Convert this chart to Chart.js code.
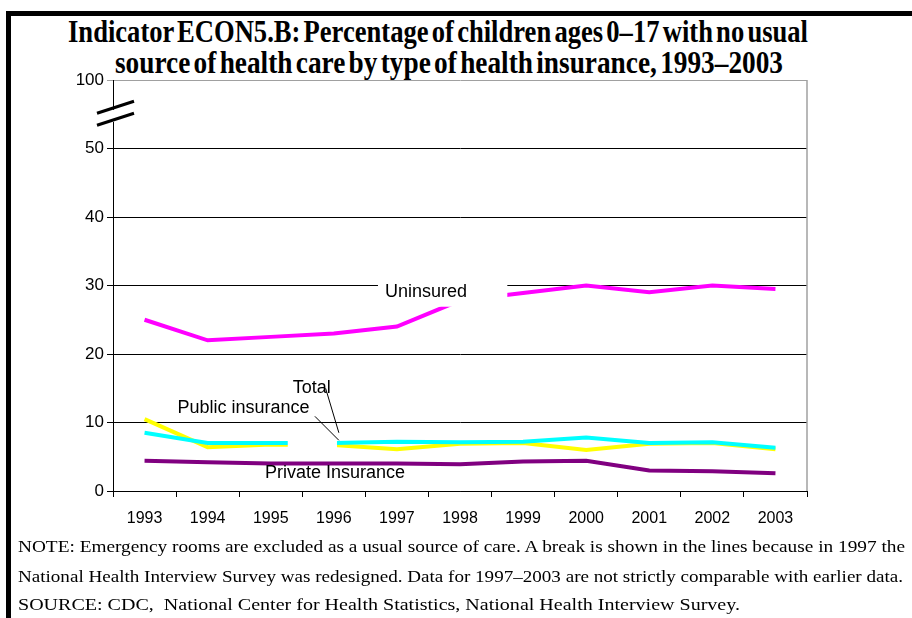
<!DOCTYPE html>
<html>
<head>
<meta charset="utf-8">
<script src="https://cdn.jsdelivr.net/npm/chart.js@4.4.1/dist/chart.umd.min.js"></script>
<style>
  html, body { margin: 0; padding: 0; background: #fff; }
  body { width: 912px; height: 618px; position: relative; overflow: hidden; }
  .bar { position: absolute; background: #000; }
  .line { position: absolute; white-space: nowrap; transform-origin: 0 0; color: #000; }
  .title { font: bold 31px "Liberation Serif", "Times New Roman", serif; word-spacing: -4px; }
  .note { font: 16px "Liberation Serif", "Times New Roman", serif; }
  #chart { position: absolute; left: 0; top: 0; }
</style>
</head>
<body>
<div class="bar" style="left:6px; top:11px; width:5px; height:620px;"></div>
<div class="bar" style="left:6px; top:11px; width:910px; height:5px;"></div>

<span class="line title" id="t1" style="left:68px; top:14px;">Indicator ECON5.B: Percentage of children ages 0–17 with no usual</span>
<span class="line title" id="t2" style="left:115px; top:45px;">source of health care by type of health insurance, 1993–2003</span>

<canvas id="chart" width="912" height="618"></canvas>

<span class="line note" id="n1" style="left:18px; top:538px;">NOTE: Emergency rooms are excluded as a usual source of care. A break is shown in the lines because in 1997 the</span>
<span class="line note" id="n2" style="left:18px; top:568px;">National Health Interview Survey was redesigned. Data for 1997–2003 are not strictly comparable with earlier data.</span>
<span class="line note" id="n3" style="left:18px; top:596px;">SOURCE: CDC,&nbsp; National Center for Health Statistics, National Health Interview Survey.</span>

<script>
// data
const years = ['1993', '1994', '1995', '1996', '1997', '1998', '1999', '2000', '2001', '2002', '2003'];
const uninsured = [25.0, 22.0, 22.5, 23.0, 24.0, 27.8, 28.9, 30.0, 29.0, 30.0, 29.5];
const total = [10.5, 6.4, 6.8, 6.7, 6.1, 6.9, 7.0, 6.0, 6.9, 7.0, 6.1];
const publicIns = [8.5, 7.0, 7.0, 7.0, 7.2, 7.1, 7.2, 7.8, 7.0, 7.1, 6.3];
const privateIns = [4.4, 4.2, 4.0, 4.0, 4.0, 3.9, 4.3, 4.4, 3.0, 2.9, 2.6];

// axis is broken between 50 and 100, so the top tick sits one step above 50
const yTicks = [0, 10, 20, 30, 40, 50, 60];
const yTickText = ['0', '10', '20', '30', '40', '50', '100'];

// stretch text lines to the widths they have in the original
function fit(id, width) {
    const el = document.getElementById(id);
    el.style.transform = 'scaleX(' + (width / el.getBoundingClientRect().width) + ')';
}
fit('t1', 740);
fit('t2', 668);
fit('n1', 887);
fit('n2', 885);
fit('n3', 722);

const overlay = {
    id: 'overlay',

    afterDatasetsDraw(chart) {
        const { ctx, scales: { x, y } } = chart;
        const step = x.getPixelForValue(1) - x.getPixelForValue(0);
        const px = i => x.getPixelForValue(0) + i * step;

        ctx.save();
        ctx.fillStyle = '#fff';

        // white box behind the "Uninsured" label
        ctx.fillRect(px(3.7), y.getPixelForValue(31.4), px(5.75) - px(3.7), y.getPixelForValue(26.9) - y.getPixelForValue(31.4));

        // break in the total / public lines
        ctx.fillRect(px(2.27), y.getPixelForValue(9.2), px(3.05) - px(2.27), y.getPixelForValue(5.2) - y.getPixelForValue(9.2));

        // leader lines
        ctx.strokeStyle = '#000';
        ctx.lineWidth = 1;
        ctx.beginPath();
        ctx.moveTo(px(2.87), y.getPixelForValue(15.0));
        ctx.lineTo(px(3.08), y.getPixelForValue(8.5));
        ctx.moveTo(px(2.70), y.getPixelForValue(10.9));
        ctx.lineTo(px(3.08), y.getPixelForValue(7.4));
        ctx.stroke();

        // series labels
        ctx.fillStyle = '#000';
        ctx.font = '18px "Liberation Sans", Arial, sans-serif';
        ctx.textBaseline = 'middle';
        ctx.textAlign = 'left';
        ctx.fillText('Uninsured', px(3.81), y.getPixelForValue(29.1));
        ctx.textAlign = 'center';
        ctx.fillText('Total', px(2.65), y.getPixelForValue(15.0));
        ctx.fillText('Public insurance', px(1.57), y.getPixelForValue(12.1));
        ctx.fillText('Private Insurance', px(3.02), y.getPixelForValue(2.6));
        ctx.restore();
    },

    afterDraw(chart) {
        const { ctx, chartArea, scales: { y } } = chart;
        ctx.save();

        // gray right border of the plot area
        ctx.strokeStyle = '#a0a0a0';
        ctx.lineWidth = 1.5;
        ctx.beginPath();
        ctx.moveTo(chartArea.right, chartArea.top);
        ctx.lineTo(chartArea.right, chartArea.bottom);
        ctx.stroke();

        // axis break mark
        const ax = chartArea.left;
        const ay = y.getPixelForValue(55);
        ctx.fillStyle = '#fff';
        ctx.beginPath();
        ctx.moveTo(ax - 16, ay + 1);
        ctx.lineTo(ax + 21, ay - 11);
        ctx.lineTo(ax + 21, ay + 1);
        ctx.lineTo(ax - 16, ay + 13);
        ctx.closePath();
        ctx.fill();
        ctx.strokeStyle = '#000';
        ctx.lineWidth = 3;
        ctx.beginPath();
        ctx.moveTo(ax - 16, ay - 1);
        ctx.lineTo(ax + 21, ay - 13);
        ctx.moveTo(ax - 16, ay + 11);
        ctx.lineTo(ax + 21, ay - 1);
        ctx.stroke();
        ctx.restore();
    }
};

const line = (label, data, color, order) => ({
    label,
    data,
    borderColor: color,
    backgroundColor: color,
    borderWidth: 4,
    pointRadius: 0,
    tension: 0,
    borderCapStyle: 'butt',
    order
});

new Chart(document.getElementById('chart').getContext('2d'), {
    type: 'line',
    data: {
        labels: years,
        datasets: [
            line('Uninsured', uninsured, '#ff00ff', 0),
            line('Public insurance', publicIns, '#00ffff', 1),
            line('Total', total, '#ffff00', 2),
            line('Private insurance', privateIns, '#800080', 3)
        ]
    },
    options: {
        responsive: false,
        devicePixelRatio: 1,
        animation: false,
        layout: {
            padding: { left: 63, right: 105, top: 80, bottom: 87 }
        },
        plugins: {
            legend: { display: false },
            tooltip: { enabled: false }
        },
        scales: {
            x: {
                offset: true,
                grid: {
                    offset: true,
                    drawOnChartArea: false,
                    tickLength: 6,
                    color: '#000'
                },
                border: { color: '#000', width: 1 },
                ticks: {
                    color: '#000',
                    padding: 12,
                    maxRotation: 0,
                    autoSkip: false,
                    font: { family: '"Liberation Sans", Arial, sans-serif', size: 16 }
                },
                afterFit(scale) { scale.height = 40; }
            },
            y: {
                min: 0,
                max: 60,
                afterBuildTicks(scale) {
                    scale.ticks = yTicks.map(v => ({ value: v }));
                },
                grid: {
                    tickLength: 6,
                    color: c => c.tick && c.tick.value === 60 ? '#a0a0a0' : '#000',
                    lineWidth: 1
                },
                border: { color: '#000', width: 1 },
                ticks: {
                    color: '#000',
                    padding: 3,
                    callback: (v) => yTickText[yTicks.indexOf(v)],
                    font: { family: '"Liberation Sans", Arial, sans-serif', size: 17 }
                },
                afterFit(scale) { scale.width = 50; }
            }
        }
    },
    plugins: [overlay]
});
</script>
</body>
</html>
